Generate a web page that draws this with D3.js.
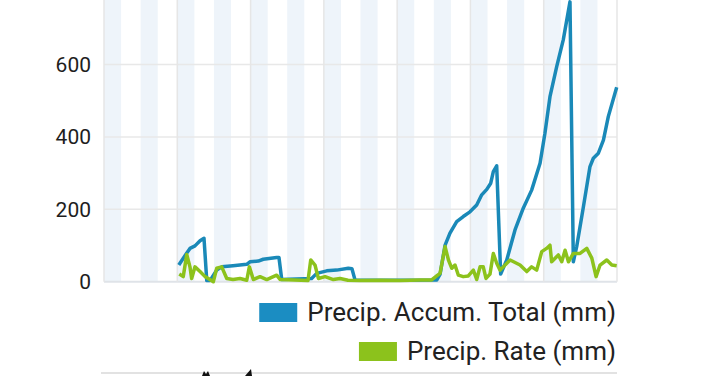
<!DOCTYPE html>
<html>
<head>
<meta charset="utf-8">
<script src="https://cdn.jsdelivr.net/npm/d3@7"></script>
<style>
  body { margin: 0; background: #fff; }
  svg text { font-family: Roboto, "Noto Sans", sans-serif; }
</style>
</head>
<body>
<div id="chart"></div>
<script>
// hours since start of the 14 day window
var totalHours = [49, 54, 56.3, 59.6, 62.9, 65.5, 67.3, 69.4, 73.8, 77.1, 84.5, 93.5, 95.6, 101.1, 104.3, 113.1, 114.6,
  116.4, 136, 139.3, 145.9, 152.4, 160, 162.4, 164.4, 190, 218, 220.1, 223.4, 226.6, 231, 235.3, 239.7, 244.1, 247.4,
  250.7, 253.3, 255, 257.2, 259.8, 263.8, 269.2, 274.6, 280.1, 285.6, 288.8, 292.1, 296.5, 300.8, 305.2, 307.4, 309.6,
  314, 318.3, 320.5, 323.8, 327.1, 330.3, 335.8];
var totalVals = [46, 78, 92, 99, 113, 120, 3, 3, 32, 41, 44, 48, 55, 57, 62, 67, 67,
  6, 9, 23, 30, 32, 37, 36, 5, 4, 5, 20, 101, 134, 166, 180, 193, 212, 240,
  255, 272, 304, 320, 21, 60, 143, 203, 253, 327, 410, 511, 594, 668, 773, 55, 97,
  207, 318, 341, 355, 391, 456, 537];

var rateHours = [49.3, 51.9, 54.2, 56.3, 57.4, 59.6, 62.9, 66.2, 68.3, 71.6, 73.8, 77.1, 80.4, 84.5, 89.1, 93.5, 95.2,
  97.8, 102.2, 106.6, 110.9, 113.1, 115.3, 133.6, 135.4, 138.2, 140.4, 144.8, 150.2, 154.6, 159.8, 167.7, 180.8, 193.9,
  207, 214.6, 217.9, 220.1, 223.4, 225.6, 227.8, 229.9, 232.1, 235.3, 238.6, 241.9, 244.1, 246.3, 248.4, 250.2, 252.8,
  255, 257.2, 259.4, 266, 272.5, 276.9, 280.1, 283.4, 286.7, 289.9, 292.1, 293.2, 297.6, 299.8, 302, 304.2, 307.4,
  311.8, 316.2, 319.5, 322.3, 324.9, 329.3, 332.6, 335.8];
var rateVals = [21, 14, 75, 41, 9, 41, 28, 14, 9, 0, 37, 41, 9, 6, 9, 4, 41,
  6, 14, 6, 14, 18, 6, 3, 60, 46, 9, 14, 6, 9, 4, 3, 4, 3,
  5, 5, 16, 23, 97, 60, 37, 46, 18, 14, 16, 32, 6, 41, 41, 9, 21,
  78, 51, 32, 60, 46, 28, 41, 32, 83, 92, 101, 55, 74, 55, 87, 55, 78,
  78, 92, 65, 14, 46, 60, 46, 44];

var yTicks = [0, 200, 400, 600];
var seriesNames = ["Precip. Accum. Total (mm)", "Precip. Rate (mm)"];
var seriesColors = ["#1a89b8", "#8cc21c"];
var legendColors = ["#1b8dc2", "#8cc21c"];

var width = 720, height = 376;
var svg = d3.select("#chart").append("svg").attr("width", width).attr("height", height);

var x = d3.scaleLinear().domain([0, 336]).range([104, 617]);
var y = d3.scaleLinear().domain([0, 800]).range([281.7, -7.9]);

// night shading, one band per day
svg.append("g").selectAll("rect")
  .data(d3.range(0, 336, 24))
  .join("rect")
  .attr("x", function(d) { return x(d); })
  .attr("y", 0)
  .attr("width", x(11.2) - x(0))
  .attr("height", y(0))
  .attr("fill", "#eef4fa");

// horizontal grid
svg.append("g").selectAll("line")
  .data(yTicks)
  .join("line")
  .attr("x1", x(0)).attr("x2", x(336))
  .attr("y1", function(d) { return y(d); })
  .attr("y2", function(d) { return y(d); })
  .attr("stroke", function(d) { return d == 0 ? "#dfe3e8" : "#e8e8e8"; })
  .attr("stroke-width", function(d) { return d == 0 ? 2 : 1.5; });

// vertical grid every two days
svg.append("g").selectAll("line")
  .data(d3.range(0, 337, 48))
  .join("line")
  .attr("x1", function(d) { return x(d); })
  .attr("x2", function(d) { return x(d); })
  .attr("y1", 0).attr("y2", y(0))
  .attr("stroke", "#e6e6e6")
  .attr("stroke-width", 1.5);

// y labels
svg.append("g").selectAll("text")
  .data(yTicks)
  .join("text")
  .attr("x", 91)
  .attr("y", function(d) { return y(d); })
  .attr("dy", "0.36em")
  .attr("text-anchor", "end")
  .attr("style", "font-size:21px;fill:#1e1e1e")
  .text(function(d) { return d; });

var line = d3.line()
  .x(function(d) { return x(d[0]); })
  .y(function(d) { return y(d[1]); });

svg.append("path")
  .datum(d3.zip(totalHours, totalVals))
  .attr("d", line)
  .attr("fill", "none")
  .attr("stroke", seriesColors[0])
  .attr("stroke-width", 3.5)
  .attr("stroke-linejoin", "round");

svg.append("path")
  .datum(d3.zip(rateHours, rateVals))
  .attr("d", line)
  .attr("fill", "none")
  .attr("stroke", seriesColors[1])
  .attr("stroke-width", 3.5)
  .attr("stroke-linejoin", "round");

// legend, right aligned
var legendY = [321, 360];
seriesNames.forEach(function(name, i) {
  var t = svg.append("text")
    .attr("x", 616)
    .attr("y", legendY[i])
    .attr("text-anchor", "end")
    .attr("style", "font-size:26px;fill:#222")
    .text(name);
  var w = t.node().getComputedTextLength();
  svg.append("rect")
    .attr("x", 616 - w - 48)
    .attr("y", legendY[i] - 18)
    .attr("width", 38)
    .attr("height", 19)
    .attr("fill", legendColors[i]);
});

// top edge of the next chart, cut off
svg.append("line")
  .attr("x1", 101).attr("x2", 617)
  .attr("y1", 373).attr("y2", 373)
  .attr("stroke", "#e2e2e2")
  .attr("stroke-width", 2);
svg.append("path")
  .attr("d", "M202,376 L204,371 L206,374 L208,371 L210,376 Z")
  .attr("fill", "#111");
svg.append("path")
  .attr("d", "M245,376 L251,369 L252,376 Z")
  .attr("fill", "#111");
</script>
</body>
</html>
